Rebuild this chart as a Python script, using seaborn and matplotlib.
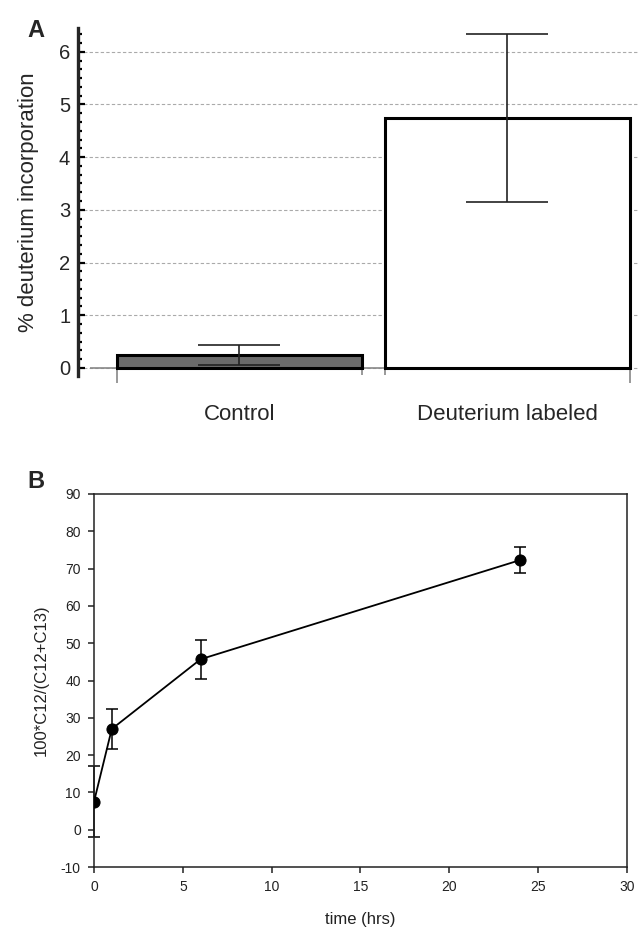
import numpy as np
import pandas as pd
import matplotlib
matplotlib.use('Agg')
import matplotlib.pyplot as plt
from matplotlib.ticker import MultipleLocator
import seaborn as sns

# datos panel A
categorias = ['Control', 'Deuterium labeled']
incorporacion = [0.24, 4.74]
error_inc = [0.19, 1.59]
colores_barras = ['#6b6b6b', '#ffffff']

# datos panel B
tiempo = [0, 1, 6, 24]
razon_c12 = [7.5, 27.0, 45.7, 72.3]
error_c12 = [9.5, 5.3, 5.2, 3.6]

sns.set_style('ticks')
plt.rcParams['font.family'] = ['Liberation Sans', 'DejaVu Sans']
plt.rcParams['axes.unicode_minus'] = False

fig = plt.figure(figsize=(6.39, 9.27), dpi=100)

# ---------- panel A ----------
ax1 = fig.add_axes([0.1228, 0.5944, 0.877, 0.3754])
ancho = 0.914
sns.barplot(x=categorias, y=incorporacion, hue=categorias, palette=colores_barras,
            saturation=1, legend=False, width=ancho, edgecolor='black',
            linewidth=2.2, ax=ax1, zorder=3)
pos = np.arange(len(categorias))
ax1.errorbar(pos, incorporacion, yerr=error_inc, fmt='none', ecolor='#222222',
             elinewidth=1.2, capsize=29.5, capthick=1.2, zorder=4)

ax1.set_xlim(-0.601, 1.491)
ax1.set_ylim(-0.152, 6.45)
ax1.yaxis.set_major_locator(MultipleLocator(1))
ax1.yaxis.set_minor_locator(MultipleLocator(1 / 6))
ax1.tick_params(axis='y', which='major', direction='in', length=5, width=1.6,
                labelsize=14.5, pad=6, color='black')
ax1.tick_params(axis='y', which='minor', direction='in', length=3, width=1.6,
                color='black')
ax1.grid(axis='y', which='major', linestyle=(0, (3, 2)), color='#aaaaaa',
         linewidth=0.8, zorder=0)
ax1.set_axisbelow(True)
for lado in ['top', 'right', 'bottom']:
    ax1.spines[lado].set_visible(False)
ax1.spines['left'].set_linewidth(2.4)

# linea base y marcas en bordes de barras
ax1.hlines(0, -0.557, 1.457, color='#888888', linewidth=1.2, zorder=1, clip_on=False)
bordes_ext = [pos[0] - ancho / 2, pos[-1] + ancho / 2]
bordes_int = [pos[0] + ancho / 2, pos[-1] - ancho / 2]
ax1.vlines(bordes_ext, -0.28, 0, color='#888888', linewidth=1.2, clip_on=False)
ax1.vlines(bordes_int, -0.14, 0, color='#888888', linewidth=1.2, clip_on=False)

ax1.set_xticks(pos)
ax1.set_xticklabels(categorias, fontsize=16)
ax1.tick_params(axis='x', length=0, pad=20)
ax1.set_ylabel('% deuterium incorporation', fontsize=16, labelpad=14)
ax1.set_xlabel('')
fig.text(0.056, 0.979, 'A', fontsize=17, fontweight='bold', ha='center', va='top')

# ---------- panel B ----------
ax2 = fig.add_axes([0.1471, 0.0647, 0.834, 0.4024])
sns.lineplot(x=tiempo, y=razon_c12, color='black', linewidth=1.3, marker='o',
             markersize=8, markeredgecolor='black', ax=ax2, zorder=3)
ax2.errorbar(tiempo, razon_c12, yerr=error_c12, fmt='none', ecolor='black',
             elinewidth=1.1, capsize=4, capthick=1.1, zorder=2, clip_on=False)
ax2.set_xlim(0, 30)
ax2.set_ylim(-10, 90)
ax2.xaxis.set_major_locator(MultipleLocator(5))
ax2.yaxis.set_major_locator(MultipleLocator(10))
ax2.tick_params(direction='out', length=4.5, width=1.1, labelsize=10,
                colors='#222222', pad=5)
for lado in ['top', 'right', 'bottom', 'left']:
    ax2.spines[lado].set_linewidth(1.1)
    ax2.spines[lado].set_color('#222222')
ax2.set_xlabel('time (hrs)', fontsize=12, labelpad=13, color='#222222')
ax2.set_ylabel('100*C12/(C12+C13)', fontsize=12, labelpad=9, color='#222222')
fig.text(0.056, 0.493, 'B', fontsize=17, fontweight='bold', ha='center', va='top')

fig.savefig('out.png', dpi=100)
